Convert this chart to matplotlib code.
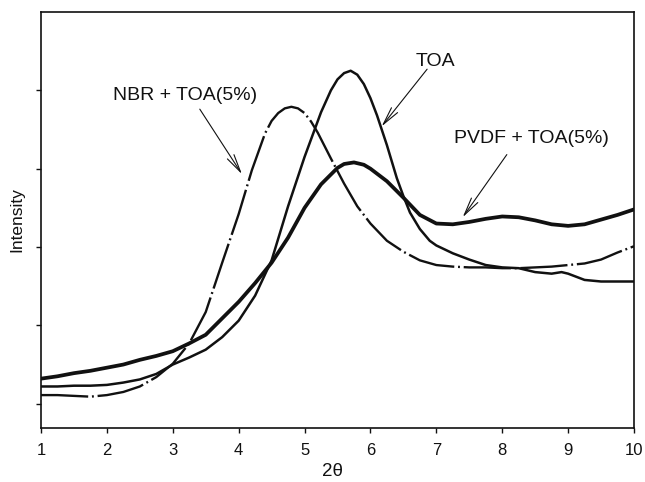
import matplotlib
matplotlib.use("Agg")
import matplotlib.pyplot as plt

# ---- data ----
pvdf_x = [1.0, 1.25, 1.5, 1.75, 2.0, 2.25, 2.5, 2.75, 3.0, 3.25, 3.5, 3.75, 4.0, 4.25, 4.5,
          4.75, 5.0, 5.25, 5.5, 5.6, 5.75, 5.9, 6.0, 6.25, 6.5, 6.75, 7.0, 7.25, 7.5, 7.75, 8.0, 8.25,
          8.5, 8.75, 9.0, 9.25, 9.5, 9.75, 10.0]
pvdf_y = [0.32, 0.35, 0.39, 0.42, 0.46, 0.50, 0.56, 0.61, 0.67, 0.77, 0.88, 1.09, 1.30, 1.54, 1.80,
          2.12, 2.50, 2.80, 3.01, 3.06, 3.08, 3.05, 3.00, 2.84, 2.63, 2.41, 2.30, 2.29, 2.32, 2.36, 2.39, 2.38,
          2.34, 2.29, 2.27, 2.29, 2.35, 2.41, 2.48]

toa_x = [1.0, 1.25, 1.5, 1.75, 2.0, 2.25, 2.5, 2.75, 3.0, 3.25, 3.5, 3.75, 4.0, 4.25, 4.5,
         4.75, 5.0, 5.25, 5.4, 5.5, 5.6, 5.7, 5.8, 5.9, 6.0, 6.1, 6.25, 6.4, 6.5, 6.6, 6.75, 6.9, 7.0,
         7.25, 7.5, 7.75, 8.0, 8.25, 8.5, 8.75, 8.9, 9.0, 9.25, 9.5, 9.75, 10.0]
toa_y = [0.22, 0.22, 0.23, 0.23, 0.24, 0.27, 0.31, 0.38, 0.50, 0.59, 0.69, 0.85, 1.06, 1.38, 1.83,
         2.52, 3.15, 3.72, 4.00, 4.14, 4.22, 4.25, 4.20, 4.08, 3.90, 3.68, 3.30, 2.88, 2.65, 2.44, 2.23, 2.08, 2.02,
         1.92, 1.84, 1.77, 1.74, 1.73, 1.68, 1.66, 1.68, 1.66, 1.58, 1.56, 1.56, 1.56]

nbr_x = [1.0, 1.25, 1.5, 1.75, 2.0, 2.25, 2.5, 2.75, 3.0, 3.25, 3.5, 3.75, 4.0, 4.2, 4.4,
         4.5, 4.6, 4.7, 4.8, 4.9, 5.0, 5.1, 5.2, 5.4, 5.6, 5.8, 6.0, 6.25, 6.5, 6.75, 7.0, 7.25, 7.5, 7.75,
         8.0, 8.25, 8.5, 8.75, 9.0, 9.25, 9.5, 9.75, 10.0]
nbr_y = [0.11, 0.11, 0.10, 0.09, 0.11, 0.15, 0.22, 0.34, 0.51, 0.77, 1.17, 1.80, 2.42, 2.98, 3.45,
         3.61, 3.71, 3.77, 3.79, 3.77, 3.71, 3.60, 3.46, 3.13, 2.81, 2.52, 2.30, 2.08, 1.94, 1.83, 1.77, 1.75, 1.74, 1.74,
         1.73, 1.73, 1.74, 1.75, 1.77, 1.79, 1.84, 1.93, 2.01]

x_ticks = [1, 2, 3, 4, 5, 6, 7, 8, 9, 10]
y_ticks = [0, 1, 2, 3, 4]

labels = ["NBR + TOA(5%)", "TOA", "PVDF + TOA(5%)"]
# (text position, arrow tip) in data coordinates
label_text_pos = [(3.19, 3.93), (6.98, 4.37), (8.44, 3.38)]
label_arrow_tip = [(4.05, 2.93), (6.17, 3.54), (7.40, 2.38)]

plt.rcParams['font.family'] = ['Liberation Sans', 'DejaVu Sans']

fig = plt.figure(figsize=(6.45, 4.82), dpi=100)
ax = fig.add_axes([41 / 645, 1 - 428 / 482, 593 / 645, 416 / 482])

ax.plot(pvdf_x, pvdf_y, color='#111111', lw=2.7, solid_capstyle='round', solid_joinstyle='round')
ax.plot(toa_x, toa_y, color='#111111', lw=1.8, solid_joinstyle='round')
ax.plot(nbr_x, nbr_y, color='#111111', lw=1.7, linestyle=(0, (20, 1.6, 0.8, 1.6)))

ax.set_xlim(1, 10)
ax.set_ylim(-0.31, 5.0)
ax.set_xticks(x_ticks)
ax.set_xticklabels([str(t) for t in x_ticks])
ax.set_yticks(y_ticks)
ax.set_yticklabels([])
ax.tick_params(axis='both', direction='out', length=3.5, width=1.0, colors='#111111')
ax.tick_params(axis='x', labelsize=12, pad=7)
for s in ax.spines.values():
    s.set_linewidth(1.2)
    s.set_color('#111111')

for lab, tp, tip in zip(labels, label_text_pos, label_arrow_tip):
    ax.text(tp[0], tp[1], lab, fontsize=14, ha='center', va='center', color='#111111')

# arrows start just below each label
arrow_starts = [(3.41, 3.76), (6.86, 4.27), (8.07, 3.18)]
for st, tip in zip(arrow_starts, label_arrow_tip):
    ax.annotate('', xy=tip, xytext=st,
                arrowprops=dict(arrowstyle='->,head_length=1.3,head_width=0.28',
                                lw=0.8, color='#111111', shrinkA=0, shrinkB=0))

fig.text(17 / 645, 1 - 220 / 482, 'Intensity', rotation=90, fontsize=12.5,
         ha='center', va='center', color='#111111')
fig.text(332 / 645, 1 - 472 / 482, '2θ', fontsize=13.5, ha='center', va='center',
         color='#111111')

fig.savefig('out.png', dpi=100)
